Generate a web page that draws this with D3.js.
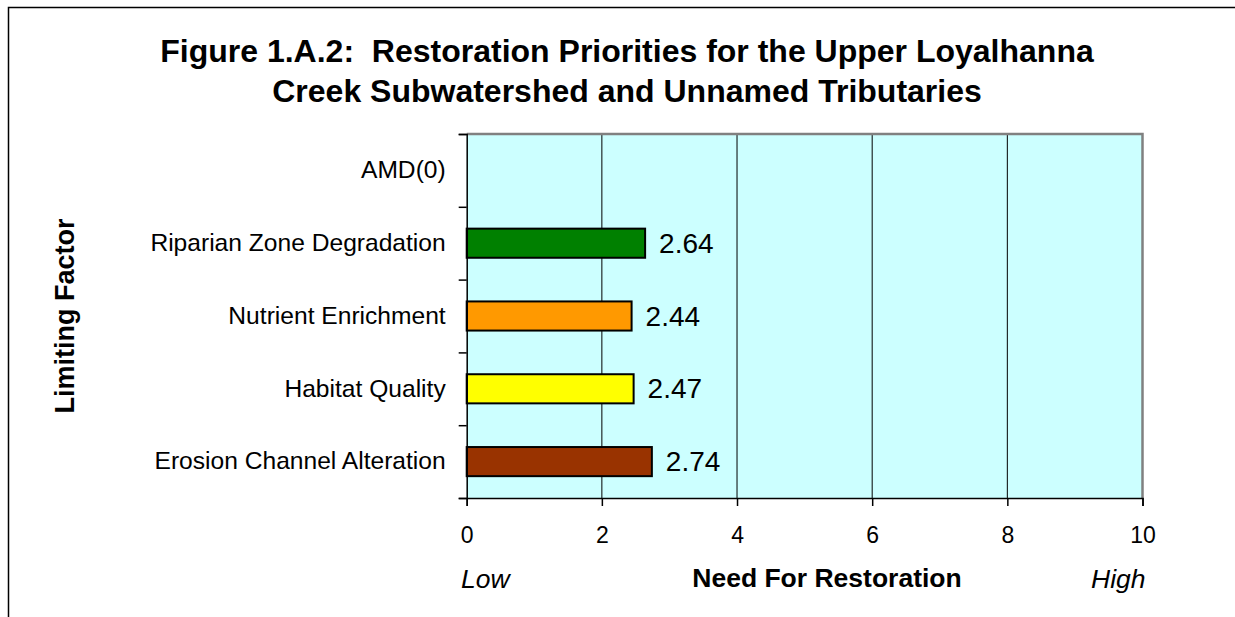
<!DOCTYPE html>
<html>
<head>
<meta charset="utf-8">
<script src="https://cdn.jsdelivr.net/npm/d3@7"></script>
<style>
  html, body { margin: 0; padding: 0; background: #fff; overflow: hidden; }
  svg { display: block; font-family: "Liberation Sans", Arial, sans-serif; }
</style>
</head>
<body>
<svg id="chart" width="1235" height="617"></svg>
<script>
// Limiting factors, listed top to bottom
const categories = ["AMD(0)", "Riparian Zone Degradation", "Nutrient Enrichment", "Habitat Quality", "Erosion Channel Alteration"];
// Need-for-restoration score per factor (AMD has no bar)
const values = [0, 2.64, 2.44, 2.47, 2.74];
const barColors = ["#008000", "#008000", "#FF9900", "#FFFF00", "#993300"];
const xTicks = [0, 2, 4, 6, 8, 10];
const titleLines = ["Figure 1.A.2:\u00A0 Restoration Priorities for the Upper Loyalhanna", "Creek Subwatershed and Unnamed Tributaries"];

const svg = d3.select("#chart");

// outer chart frame (left and top edges fall inside the page)
svg.append("path")
  .attr("d", "M8.5,640V7.5H1300")
  .attr("fill", "none").attr("stroke", "#000").attr("stroke-width", 1.5);

const plot = { left: 466.7, right: 1142.5, top: 134, bottom: 498 };

const x = d3.scaleLinear().domain([0, 10]).range([plot.left, plot.right]);
const y = d3.scaleBand().domain(categories).range([plot.top, plot.bottom])
  .paddingInner(0.6).paddingOuter(0.3);
const yEdge = d3.scaleLinear().domain([0, categories.length]).range([plot.top, plot.bottom]);

// plot background
svg.append("rect")
  .attr("x", plot.left).attr("y", plot.top)
  .attr("width", plot.right - plot.left).attr("height", plot.bottom - plot.top)
  .attr("fill", "#CCFFFF");

// vertical gridlines
svg.append("g").selectAll("line")
  .data(xTicks.filter(d => d > 0 && d < 10))
  .join("line")
  .attr("x1", d => x(d)).attr("x2", d => x(d))
  .attr("y1", plot.top).attr("y2", plot.bottom)
  .attr("stroke", "#000").attr("stroke-width", 1);

// plot border (top and right)
svg.append("path")
  .attr("d", `M${plot.left},${plot.top}H${plot.right}V${plot.bottom}`)
  .attr("fill", "none").attr("stroke", "#808080").attr("stroke-width", 2.5);

// bars
svg.append("g").selectAll("rect")
  .data(categories.map((c, i) => ({ c, v: values[i], color: barColors[i] })).filter(d => d.v > 0))
  .join("rect")
  .attr("x", x(0))
  .attr("y", d => y(d.c))
  .attr("width", d => x(d.v) - x(0))
  .attr("height", y.bandwidth())
  .attr("fill", d => d.color)
  .attr("stroke", "#000").attr("stroke-width", 2);

// value labels
svg.append("g").selectAll("text")
  .data(categories.map((c, i) => ({ c, v: values[i] })).filter(d => d.v > 0))
  .join("text")
  .attr("x", d => x(d.v) + 14)
  .attr("y", d => y(d.c) + y.bandwidth() / 2 + 9.5)
  .attr("font-size", 28)
  .attr("fill", "#000")
  .text(d => d.v.toFixed(2));

// x axis
const xAxis = svg.append("g")
  .attr("transform", `translate(0,${plot.bottom})`)
  .call(d3.axisBottom(x).tickValues(xTicks).tickSize(8).tickPadding(21).tickFormat(d3.format("d")));
xAxis.select(".domain").attr("stroke", "#000").attr("stroke-width", 1.5);
xAxis.selectAll(".tick line").attr("stroke", "#000").attr("stroke-width", 1.5);
xAxis.selectAll(".tick text").attr("font-size", 23).attr("fill", "#000")
  .style("font-family", "'Liberation Sans', Arial, sans-serif");

// y axis: boundary ticks
const yTickAxis = svg.append("g")
  .attr("transform", `translate(${plot.left},0)`)
  .call(d3.axisLeft(yEdge).tickValues(d3.range(categories.length + 1)).tickSize(8).tickFormat(""));
yTickAxis.select(".domain").attr("stroke", "#000").attr("stroke-width", 1.5);
yTickAxis.selectAll(".tick line").attr("stroke", "#000").attr("stroke-width", 1.5);

// y axis: category labels
const yLabelAxis = svg.append("g")
  .attr("transform", `translate(${plot.left},0)`)
  .call(d3.axisLeft(y).tickSize(0).tickPadding(21));
yLabelAxis.select(".domain").remove();
yLabelAxis.selectAll(".tick text").attr("font-size", 24.6).attr("fill", "#000")
  .style("font-family", "'Liberation Sans', Arial, sans-serif");

// title
svg.append("text")
  .attr("x", 627).attr("y", 62)
  .attr("text-anchor", "middle")
  .attr("font-size", 32).attr("font-weight", "bold")
  .selectAll("tspan").data(titleLines).join("tspan")
  .attr("x", 627).attr("dy", (d, i) => i === 0 ? 0 : 39.5)
  .text(d => d);

// y axis title
svg.append("text")
  .attr("transform", `translate(74,${(plot.top + plot.bottom) / 2}) rotate(-90)`)
  .attr("text-anchor", "middle")
  .attr("font-size", 27).attr("font-weight", "bold")
  .text("Limiting Factor");

// x axis title and end captions
svg.append("text")
  .attr("x", 827).attr("y", 587)
  .attr("text-anchor", "middle")
  .attr("font-size", 26.5).attr("font-weight", "bold")
  .text("Need For Restoration");
svg.append("text")
  .attr("x", 461).attr("y", 588)
  .attr("font-size", 26.5).attr("font-style", "italic")
  .text("Low");
svg.append("text")
  .attr("x", 1091).attr("y", 588)
  .attr("font-size", 26.5).attr("font-style", "italic")
  .text("High");
</script>
</body>
</html>
